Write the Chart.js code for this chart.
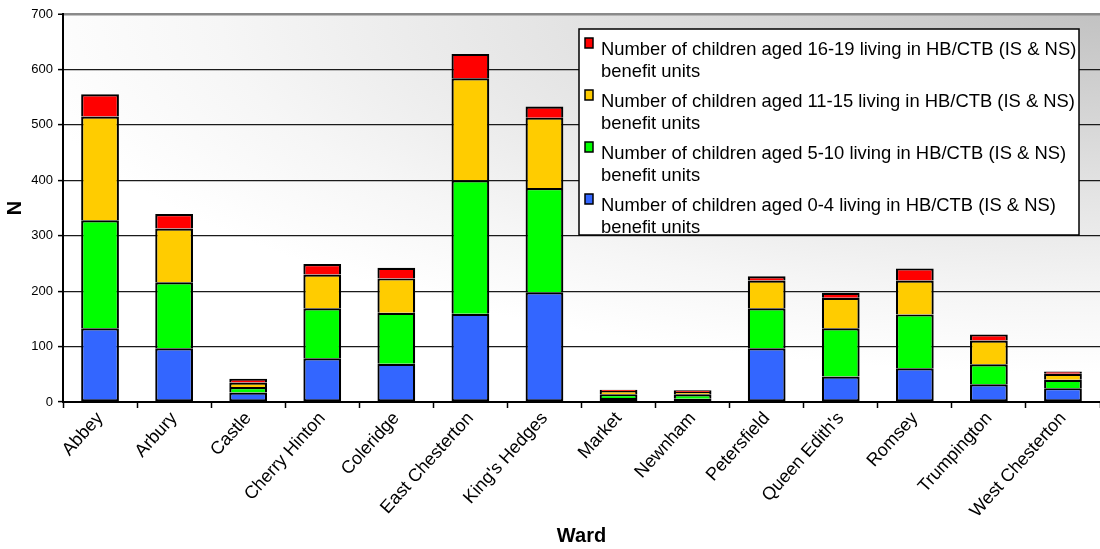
<!DOCTYPE html>
<html>
<head>
<meta charset="utf-8">
<script src="https://cdn.jsdelivr.net/npm/chart.js@4.4.1/dist/chart.umd.min.js"></script>
<style>
  html, body { margin: 0; padding: 0; background: #ffffff; }
  #wrap { width: 1100px; height: 549px; position: relative; }
</style>
</head>
<body>
<div id="wrap"><canvas id="chart"></canvas></div>
<script>
// Wards of Cambridge
const wards = ['Abbey', 'Arbury', 'Castle', 'Cherry Hinton', 'Coleridge', 'East Chesterton',
  "King's Hedges", 'Market', 'Newnham', 'Petersfield', "Queen Edith's", 'Romsey',
  'Trumpington', 'West Chesterton'];

// Children living in HB/CTB (IS & NS) benefit units, by age band
const aged0to4   = [133,  97, 17, 79, 69, 159, 198, 7, 6, 97, 46, 61, 32, 25];
const aged5to10  = [195, 119, 10, 90, 92, 241, 188, 7, 8, 72, 87, 97, 36, 15];
const aged11to15 = [187,  97,  8, 61, 62, 184, 127, 6, 4, 50, 55, 61, 43, 11];
const aged16to19 = [ 40,  26,  7, 19, 19,  44,  20, 2, 3,  8,  9, 22, 11,  4];

const seriesLabels = [
  'Number of children aged 0-4 living in HB/CTB (IS & NS) benefit units',
  'Number of children aged 5-10 living in HB/CTB (IS & NS) benefit units',
  'Number of children aged 11-15 living in HB/CTB (IS & NS) benefit units',
  'Number of children aged 16-19 living in HB/CTB (IS & NS) benefit units'
];
const seriesColors = ['#3366ff', '#00ff00', '#ffcc00', '#ff0000'];

const yMax = 700;
const yStep = 100;

const FONT = "'Liberation Sans', Arial, sans-serif";

// Plot area shaded grey in the upper right, fading to white
const plotBackground = {
  id: 'plotBackground',
  beforeDraw(chart) {
    const { ctx, chartArea: a } = chart;
    const rx = 1100, ry = 360;
    ctx.save();
    ctx.translate(a.right, a.top);
    ctx.scale(rx, ry);
    const g = ctx.createRadialGradient(0, 0, 0, 0, 0, 1);
    g.addColorStop(0, '#c2c2c2');
    g.addColorStop(0.5, '#e4e4e4');
    g.addColorStop(0.8, '#f6f6f6');
    g.addColorStop(1, '#ffffff');
    ctx.fillStyle = g;
    ctx.fillRect((a.left - a.right) / rx, 0, (a.right - a.left) / rx, (a.bottom - a.top) / ry);
    ctx.restore();
  }
};

// Boxed legend with wrapped entries, oldest age band first
const boxedLegend = {
  id: 'boxedLegend',
  afterDraw(chart) {
    const { ctx } = chart;
    const box = { x: 579, y: 29, w: 500, h: 206 };
    ctx.save();
    ctx.fillStyle = '#ffffff';
    ctx.fillRect(box.x, box.y, box.w, box.h);
    ctx.beginPath();
    ctx.rect(box.x, box.y, box.w, box.h);
    ctx.clip();
    ctx.font = '18.4px ' + FONT;
    ctx.textBaseline = 'middle';
    const items = chart.data.datasets.slice().reverse();
    items.forEach((ds, i) => {
      const top = box.y + 21 + i * 52;
      ctx.fillStyle = ds.backgroundColor;
      ctx.fillRect(box.x + 6, top - 12, 8, 10);
      ctx.strokeStyle = '#000000';
      ctx.lineWidth = 1.5;
      ctx.strokeRect(box.x + 6, top - 12, 8, 10);
      const cut = ds.label.indexOf(' benefit');
      const lines = [ds.label.slice(0, cut), ds.label.slice(cut + 1)];
      ctx.fillStyle = '#000000';
      lines.forEach((t, k) => ctx.fillText(t, box.x + 22, top + k * 22));
    });
    ctx.restore();
    ctx.save();
    ctx.strokeStyle = '#000000';
    ctx.lineWidth = 1.5;
    ctx.strokeRect(box.x, box.y, box.w, box.h);
    ctx.restore();
  }
};

// Segments share one outline edge: each draws its own top, the lowest also its base
const datasets = [aged0to4, aged5to10, aged11to15, aged16to19].map((values, i) => ({
  label: seriesLabels[i],
  data: values,
  backgroundColor: seriesColors[i],
  borderColor: '#000000',
  borderWidth: { top: 2.2, left: 2.2, right: 2.2, bottom: i === 0 ? 2.2 : 0 },
  borderSkipped: false,
  inflateAmount: 0,
  barPercentage: 0.51,
  categoryPercentage: 1.0
}));

new Chart(document.getElementById('chart'), {
  type: 'bar',
  data: { labels: wards, datasets },
  plugins: [plotBackground, boxedLegend],
  options: {
    responsive: true,
    maintainAspectRatio: false,
    animation: false,
    layout: { padding: { top: 14, right: 0, left: 0, bottom: 0 } },
    plugins: {
      legend: { display: false },
      tooltip: { enabled: false }
    },
    scales: {
      x: {
        stacked: true,
        afterFit(scale) { scale.height = 147; },
        grid: {
          display: true,
          offset: true,
          drawOnChartArea: false,
          drawTicks: true,
          tickLength: 6,
          tickWidth: 1.5,
          tickColor: '#000000'
        },
        border: { display: true, color: '#000000', width: 2 },
        ticks: {
          autoSkip: false,
          maxRotation: 48,
          minRotation: 48,
          padding: 0,
          color: '#000000',
          font: { family: FONT, size: 18 }
        },
        title: {
          display: true,
          text: 'Ward',
          color: '#000000',
          font: { family: FONT, size: 20, weight: 'bold' },
          padding: { top: 0, bottom: 1 }
        }
      },
      y: {
        stacked: true,
        min: 0,
        max: yMax,
        afterFit(scale) { scale.width = 63; },
        grid: {
          color: (c) => (c.tick && c.tick.value === yMax ? '#8a8a8a' : '#1a1a1a'),
          lineWidth: (c) => (c.tick && c.tick.value === yMax ? 2.5 : 1.2),
          drawTicks: true,
          tickLength: 5,
          tickColor: '#000000',
          tickWidth: 1.5
        },
        border: { display: true, color: '#000000', width: 2 },
        ticks: {
          stepSize: yStep,
          padding: 5,
          color: '#000000',
          font: { family: FONT, size: 13 }
        },
        title: {
          display: true,
          text: 'N',
          color: '#000000',
          font: { family: FONT, size: 20, weight: 'bold' },
          padding: { top: 3, bottom: 0 }
        }
      }
    }
  }
});
</script>
</body>
</html>
